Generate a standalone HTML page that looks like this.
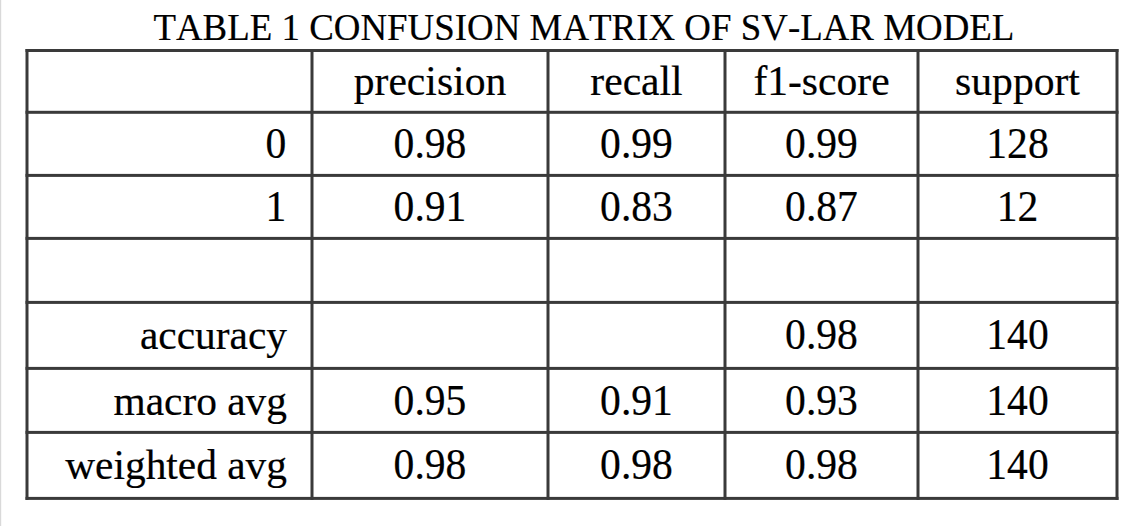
<!DOCTYPE html>
<html><head><meta charset="utf-8"><title>Table 1</title>
<style>
html,body{margin:0;padding:0;background:#fff;overflow:hidden}
svg{display:block}
text{font-family:"Liberation Serif",serif;fill:#000;font-kerning:none;stroke:#000;stroke-width:0.2px}
</style></head>
<body>
<svg width="1141" height="526" viewBox="0 0 1141 526">
<rect x="0.00" y="0.00" width="1.20" height="526.00" fill="#d9d9d9"/>
<rect x="25.50" y="49.00" width="1093.00" height="3.00" fill="#3a3a3a"/>
<rect x="25.50" y="110.80" width="1093.00" height="3.00" fill="#3a3a3a"/>
<rect x="25.50" y="173.90" width="1093.00" height="3.00" fill="#3a3a3a"/>
<rect x="25.50" y="236.90" width="1093.00" height="3.00" fill="#3a3a3a"/>
<rect x="25.50" y="300.90" width="1093.00" height="3.00" fill="#3a3a3a"/>
<rect x="25.50" y="366.90" width="1093.00" height="3.00" fill="#3a3a3a"/>
<rect x="25.50" y="430.90" width="1093.00" height="3.00" fill="#3a3a3a"/>
<rect x="25.50" y="496.90" width="1093.00" height="3.00" fill="#3a3a3a"/>
<rect x="25.50" y="49.00" width="3.00" height="450.90" fill="#3a3a3a"/>
<rect x="310.50" y="49.00" width="3.00" height="450.90" fill="#3a3a3a"/>
<rect x="546.50" y="49.00" width="3.00" height="450.90" fill="#3a3a3a"/>
<rect x="723.50" y="49.00" width="3.00" height="450.90" fill="#3a3a3a"/>
<rect x="916.50" y="49.00" width="3.00" height="450.90" fill="#3a3a3a"/>
<rect x="1115.50" y="49.00" width="3.00" height="450.90" fill="#3a3a3a"/>
<text transform="translate(430.00 94.60) scale(1 1.0)" text-anchor="middle" font-size="41.6">precision</text>
<text transform="translate(636.50 94.60) scale(1 1.0)" text-anchor="middle" font-size="41.6">recall</text>
<text transform="translate(821.50 94.60) scale(1 1.0)" text-anchor="middle" font-size="41.6">f1-score</text>
<text transform="translate(1017.50 94.60) scale(1 1.0)" text-anchor="middle" font-size="41.6">support</text>
<text transform="translate(286.30 158.30) scale(1 1.045)" text-anchor="end" font-size="41.6">0</text>
<text transform="translate(430.00 158.30) scale(1 1.045)" text-anchor="middle" font-size="41.6">0.98</text>
<text transform="translate(636.50 158.30) scale(1 1.045)" text-anchor="middle" font-size="41.6">0.99</text>
<text transform="translate(821.50 158.30) scale(1 1.045)" text-anchor="middle" font-size="41.6">0.99</text>
<text transform="translate(1017.50 158.30) scale(1 1.045)" text-anchor="middle" font-size="41.6">128</text>
<text transform="translate(286.30 221.40) scale(1 1.045)" text-anchor="end" font-size="41.6">1</text>
<text transform="translate(430.00 221.40) scale(1 1.045)" text-anchor="middle" font-size="41.6">0.91</text>
<text transform="translate(636.50 221.40) scale(1 1.045)" text-anchor="middle" font-size="41.6">0.83</text>
<text transform="translate(821.50 221.40) scale(1 1.045)" text-anchor="middle" font-size="41.6">0.87</text>
<text transform="translate(1017.50 221.40) scale(1 1.045)" text-anchor="middle" font-size="41.6">12</text>
<text transform="translate(287.00 349.30) scale(1 1.0)" text-anchor="end" font-size="41.4">accuracy</text>
<text transform="translate(821.50 349.10) scale(1 1.045)" text-anchor="middle" font-size="41.6">0.98</text>
<text transform="translate(1017.50 349.10) scale(1 1.045)" text-anchor="middle" font-size="41.6">140</text>
<text transform="translate(287.00 414.90) scale(1 1.0)" text-anchor="end" font-size="41.4">macro avg</text>
<text transform="translate(430.00 414.70) scale(1 1.045)" text-anchor="middle" font-size="41.6">0.95</text>
<text transform="translate(636.50 414.70) scale(1 1.045)" text-anchor="middle" font-size="41.6">0.91</text>
<text transform="translate(821.50 414.70) scale(1 1.045)" text-anchor="middle" font-size="41.6">0.93</text>
<text transform="translate(1017.50 414.70) scale(1 1.045)" text-anchor="middle" font-size="41.6">140</text>
<text transform="translate(287.00 479.30) scale(1 1.0)" text-anchor="end" font-size="41.4">weighted avg</text>
<text transform="translate(430.00 479.10) scale(1 1.045)" text-anchor="middle" font-size="41.6">0.98</text>
<text transform="translate(636.50 479.10) scale(1 1.045)" text-anchor="middle" font-size="41.6">0.98</text>
<text transform="translate(821.50 479.10) scale(1 1.045)" text-anchor="middle" font-size="41.6">0.98</text>
<text transform="translate(1017.50 479.10) scale(1 1.045)" text-anchor="middle" font-size="41.6">140</text>
<text transform="translate(583.90 40.10) scale(1 1.025)" text-anchor="middle" font-size="36.9">TABLE 1 CONFUSION MATRIX OF SV-LAR MODEL</text>
</svg>
</body></html>
